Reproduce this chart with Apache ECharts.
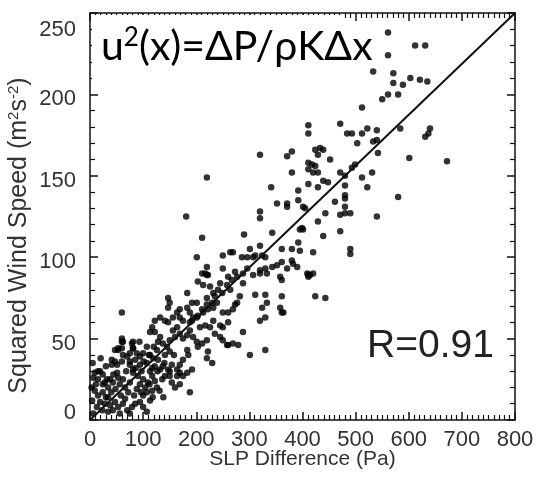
<!DOCTYPE html>
<html>
<head>
<meta charset="utf-8">
<script src="https://cdn.jsdelivr.net/npm/echarts@6/dist/echarts.min.js"></script>
<style>
  html, body { margin: 0; padding: 0; background: #fff; }
  #chart { width: 537px; height: 477px; }
</style>
</head>
<body>
<div id="chart"></div>
<script>
// SLP difference (Pa) vs squared wind speed (m2 s-2)
var upperPts = [
  [561, 238], [612, 230], [631, 230], [561, 224], [533, 214], [571, 213], [603, 210], [621, 209],
  [635, 208], [571, 207], [589, 206], [561, 200], [580, 200], [550, 197], [512, 192], [411, 181],
  [411, 176], [471, 182], [484, 176], [493, 176], [512, 176], [522, 179], [540, 178], [584, 179],
  [640, 179], [637, 176], [631, 174], [424, 166], [433, 167], [439, 166], [429, 163], [503, 170],
  [533, 171], [540, 172], [542, 164], [452, 160], [411, 158], [418, 157], [424, 156], [411, 154],
  [420, 152], [429, 152], [499, 157], [493, 155], [471, 152], [480, 150], [512, 149], [531, 152],
  [601, 161], [672, 159], [320, 163], [371, 162], [380, 165], [380, 152]
]
var midPts = [
  [411, 145], [439, 147], [448, 146], [429, 143], [480, 144], [522, 143], [480, 138], [480, 136],
  [461, 134], [580, 137], [401, 131], [405, 130], [480, 131], [443, 127], [471, 126], [480, 127],
  [490, 127], [540, 125], [429, 122], [399, 118], [471, 116], [439, 113], [490, 105], [490, 102],
  [420, 103], [411, 89], [420, 90], [220, 149], [341, 143], [392, 141], [392, 135], [352, 133],
  [371, 133], [371, 131], [320, 128], [320, 124], [181, 125], [395, 117], [401, 117], [343, 115],
  [290, 114], [211, 112], [392, 109], [320, 107], [301, 105], [307, 100], [361, 105], [380, 105],
  [395, 104], [264, 103], [269, 103], [250, 101], [201, 100], [286, 100], [296, 100], [311, 101],
  [324, 101], [330, 100], [380, 98], [382, 96], [361, 97], [352, 95], [343, 94], [330, 93],
  [320, 92], [371, 93], [390, 94], [409, 90], [220, 94], [211, 90], [220, 89], [250, 93],
  [273, 91], [288, 90], [296, 93], [307, 89], [320, 90], [333, 90], [260, 88], [358, 88], [411, 88]
]
var lowerPts = [
  [217, 90], [222, 89], [361, 86], [414, 89], [288, 84], [183, 78], [203, 85], [213, 83],
  [226, 82], [311, 77], [330, 77], [361, 76], [282, 76], [277, 72], [324, 69], [333, 72],
  [358, 69], [364, 66], [320, 61], [330, 63], [361, 66], [147, 75], [147, 69], [150, 72],
  [169, 68], [188, 66], [60, 66], [141, 61], [147, 60], [117, 57], [113, 54], [122, 54],
  [169, 63], [175, 61], [188, 60], [194, 63], [203, 64], [213, 66], [222, 68], [232, 69],
  [239, 72], [250, 66], [260, 66], [269, 68], [273, 71], [232, 61], [245, 58], [250, 57],
  [260, 60], [235, 53], [245, 51], [250, 49], [260, 46], [269, 47], [258, 46], [279, 46],
  [288, 54], [301, 40], [330, 43], [211, 47], [220, 49], [222, 42], [220, 38], [230, 35],
  [192, 31], [188, 17], [194, 51], [201, 48], [203, 45], [183, 43], [185, 40], [175, 37],
  [169, 34], [164, 31], [145, 45], [150, 42], [141, 40], [128, 48], [126, 43], [81, 48],
  [62, 48], [60, 50], [81, 44], [47, 43], [53, 44], [41, 37], [51, 34], [60, 36],
  [75, 36], [85, 37], [94, 34], [107, 35], [117, 32], [113, 30], [122, 33], [132, 31],
  [137, 33], [147, 31], [154, 34], [141, 27], [150, 27], [136, 25], [164, 27], [169, 29],
  [175, 27], [183, 29], [154, 23], [160, 20], [169, 22], [424, 76], [443, 75],
  [245, 84], [258, 83], [267, 86], [277, 88], [264, 80], [249, 78], [235, 76], [230, 72],
  [220, 71], [211, 68], [201, 63], [192, 61], [169, 53], [160, 51], [150, 49], [137, 47],
  [132, 51], [156, 55], [164, 57], [188, 55], [183, 52], [175, 50], [207, 57], [217, 58],
  [226, 57], [201, 72], [192, 72], [183, 69], [164, 66], [156, 63], [220, 75], [232, 78],
  [241, 80], [132, 63], [122, 61]
]
var clusterPts = [
  [9, 29], [19, 30], [6, 26], [15, 25], [28, 23], [38, 25], [24, 22], [34, 20],
  [43, 23], [53, 26], [62, 25], [56, 22], [66, 20], [75, 23], [81, 29], [90, 27],
  [100, 25], [94, 22], [104, 20], [109, 23], [117, 27], [122, 24], [126, 20], [117, 18],
  [107, 17], [9, 18], [15, 15], [24, 17], [34, 14], [19, 11], [28, 10], [38, 9],
  [47, 11], [53, 8], [62, 10], [70, 6], [79, 8], [85, 10], [94, 11], [100, 8],
  [107, 5], [75, 4], [56, 4], [43, 6], [34, 5], [23, 6], [13, 8], [6, 4],
  [113, 12], [100, 15], [107, 45], [100, 41], [94, 39], [88, 41], [75, 41], [70, 39],
  [113, 40], [119, 38], [128, 37], [60, 48], [60, 44], [53, 43], [79, 47], [81, 44],
  [41, 34], [47, 36], [75, 34], [81, 31], [15, 30], [24, 28], [32, 25], [4, 12],
  [11, 22], [30, 14], [40, 17], [48, 19], [58, 15], [66, 13], [72, 17], [83, 15],
  [88, 19], [96, 17], [112, 22], [118, 14], [127, 30], [131, 18], [138, 14], [44, 28],
  [68, 30], [86, 32], [97, 30], [5, 35], [3, 20], [20, 38], [30, 33], [51, 29],
  [101, 36], [111, 40], [62, 40], [140, 35], [150, 30], [158, 40], [120, 45], [93, 48]
]
var fitLine = [[0, 0], [800, 250]]
var xTicks = [0, 100, 200, 300, 400, 500, 600, 700, 800]
var yTicks = [0, 50, 100, 150, 200, 250]

var allPts = upperPts.concat(midPts, lowerPts, clusterPts)

var chart = echarts.init(document.getElementById('chart'))

var tickFont = { fontFamily: 'Liberation Sans', fontSize: 22, color: '#333' }
var majorTick = { show: true, inside: true, length: 8, lineStyle: { color: '#111', width: 1.5 } }
var minorTickX = { show: true, splitNumber: 10, length: 5, lineStyle: { color: '#111', width: 1.2 } }
var minorTickY = { show: true, splitNumber: 5, length: 5, lineStyle: { color: '#111', width: 1.2 } }
var frameLine = { show: true, onZero: false, lineStyle: { color: '#111', width: 1.5 } }

function yLabel(v) {
  if (v === 250) return '{t|' + v + '}'
  if (v === 0) return '{b|' + v + '}'
  return '{m|' + v + '}'
}

chart.setOption({
  animation: false,
  backgroundColor: '#fff',
  grid: { left: 90, right: 22, top: 13, bottom: 57, outerBoundsMode: 'none' },
  xAxis: [{
    type: 'value',
    min: xTicks[0],
    max: xTicks[xTicks.length - 1],
    interval: 100,
    name: 'SLP Difference (Pa)',
    nameLocation: 'middle',
    nameGap: 29,
    nameMoveOverlap: false,
    nameTextStyle: { fontFamily: 'Liberation Sans', fontSize: 21, color: '#333' },
    axisLine: frameLine,
    axisTick: majorTick,
    minorTick: minorTickX,
    axisLabel: Object.assign({ margin: 9, showMinLabel: true, showMaxLabel: true }, tickFont),
    splitLine: { show: false }
  }, {
    type: 'value',
    position: 'top',
    min: xTicks[0],
    max: xTicks[xTicks.length - 1],
    interval: 100,
    axisLine: frameLine,
    axisTick: majorTick,
    minorTick: minorTickX,
    axisLabel: { show: false },
    splitLine: { show: false }
  }],
  yAxis: [{
    type: 'value',
    min: yTicks[0],
    max: yTicks[yTicks.length - 1],
    interval: 50,
    name: 'Squared Wind Speed (m{s|2}s{s|-2})',
    nameLocation: 'middle',
    nameGap: 57,
    nameMoveOverlap: false,
    nameRotate: 90,
    nameTextStyle: {
      fontFamily: 'Liberation Sans', fontSize: 25, color: '#333',
      padding: [0, 38, 0, 0],
      rich: { s: { fontFamily: 'Liberation Sans', fontSize: 15, color: '#333', verticalAlign: 'top', padding: [0, 0, 12, 0] } }
    },
    axisLine: frameLine,
    axisTick: majorTick,
    minorTick: minorTickY,
    axisLabel: {
      margin: 14,
      showMinLabel: true,
      showMaxLabel: true,
      formatter: yLabel,
      rich: {
        m: Object.assign({ padding: [10, 0, 0, 0] }, tickFont),
        t: Object.assign({ padding: [34, 0, 0, 0] }, tickFont),
        b: Object.assign({ padding: [0, 0, 14, 0] }, tickFont)
      }
    },
    splitLine: { show: false }
  }, {
    type: 'value',
    position: 'right',
    min: yTicks[0],
    max: yTicks[yTicks.length - 1],
    interval: 50,
    axisLine: frameLine,
    axisTick: majorTick,
    minorTick: minorTickY,
    axisLabel: { show: false },
    splitLine: { show: false }
  }],
  series: [{
    type: 'scatter',
    data: allPts,
    symbolSize: 6.5,
    itemStyle: { color: '#000' },
    z: 2
  }, {
    type: 'line',
    data: fitLine,
    symbol: 'none',
    lineStyle: { color: '#111', width: 2 },
    z: 3
  }],
  graphic: [{
    type: 'rect',
    z: 100,
    shape: { x: 92, y: 15, width: 252, height: 66 },
    style: { fill: '#fff' }
  }, {
    type: 'text',
    z: 101,
    left: 101,
    top: 25,
    style: {
      text: '{a|u}{s|2}{a|(x)=ΔP/ρKΔx}',
      rich: {
        a: { fontFamily: 'Lato', fontSize: 41, fill: '#000' },
        s: { fontFamily: 'Lato', fontSize: 26, fill: '#000', verticalAlign: 'top', padding: [0, 0, 17, 0] }
      }
    }
  }, {
    type: 'text',
    z: 101,
    left: 367,
    top: 327,
    style: { text: 'R=0.91', fontFamily: 'Liberation Sans', fontSize: 39, fill: '#222' }
  }]
})
</script>
</body>
</html>
